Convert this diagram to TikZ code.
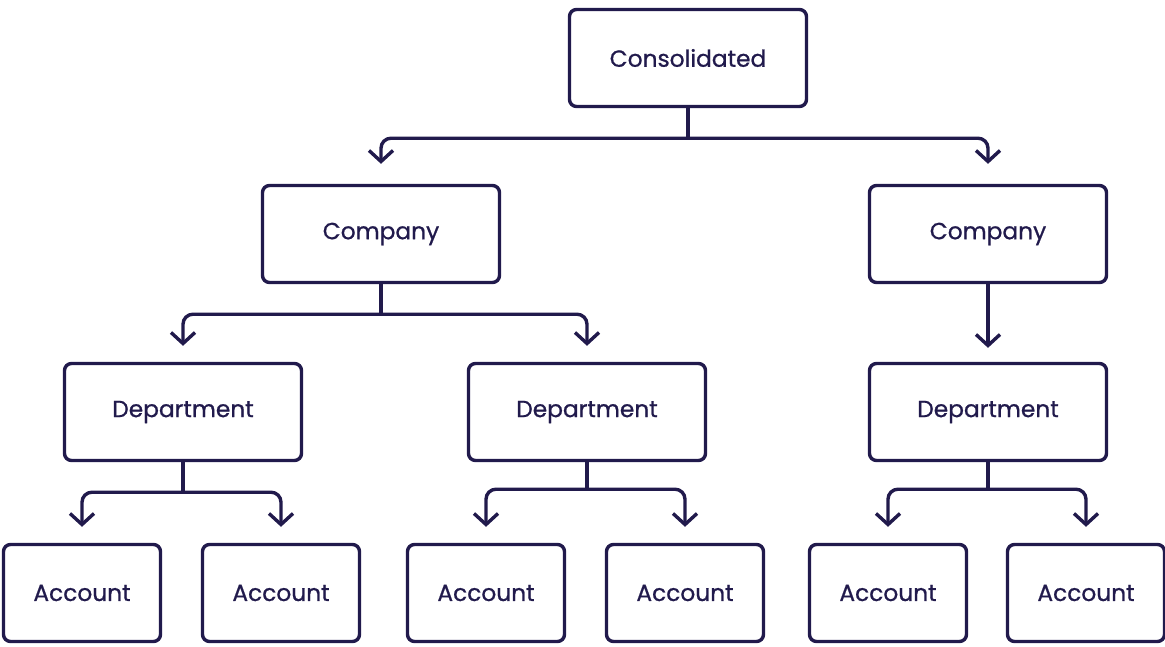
\documentclass[tikz,border=0pt]{standalone}
\usepackage{fontspec}
\setmainfont{Poppins}[FakeBold=0.8]
\usetikzlibrary{arrows.meta}
\definecolor{navy}{HTML}{211A4C}

\begin{document}
\begin{tikzpicture}[x=1pt, y=-1pt,
      >={Straight Barb[length=11pt, width=24pt]},
      box/.style={
        draw=navy,
        line width=3.4pt,
        rounded corners=7pt,
        minimum width=237pt,
        minimum height=97pt,
        text=navy,
        font=\fontsize{23.3}{28}\selectfont
      },
      leaf/.style={
        box,
        minimum width=157pt
      },
      wire/.style={
        navy,
        line width=3.4pt
      },
      link/.style={
        wire,
        ->,
        rounded corners=10pt,
        shorten >=16pt
      },
    ]
    \useasboundingbox (0, 0) rectangle (1165, 646);

    \node [box] (cons) at (688, 58) {Consolidated};

    \node [box] (compA) at (381, 234) {Company};
    \node [box] (compB) at (988, 234) {Company};

    \node [box] (deptA) at (183, 412) {Department};
    \node [box] (deptB) at (587, 412) {Department};
    \node [box] (deptC) at (988, 412) {Department};

    \node [leaf] (accA) at (82, 593) {Account};
    \node [leaf] (accB) at (281, 593) {Account};
    \node [leaf] (accC) at (486, 593) {Account};
    \node [leaf] (accD) at (685, 593) {Account};
    \node [leaf] (accE) at (888, 593) {Account};
    \node [leaf] (accF) at (1086, 593) {Account};

    % top level
    \draw [wire] (cons.south) -- ++(0, 30) coordinate (jCons);
    \draw [link, shorten >=20pt] (jCons) -| (compA.north);
    \draw [link, shorten >=20pt] (jCons) -| (compB.north);

    % companies
    \draw [wire] (compA.south) -- ++(0, 30) coordinate (jCompA);
    \draw [link] (jCompA) -| (deptA.north);
    \draw [link] (jCompA) -| (deptB.north);
    \draw [link, shorten >=14pt] (compB.south) -- (deptC.north);

    % departments
    \draw [wire] (deptA.south) -- ++(0, 30) coordinate (jDeptA);
    \draw [link] (jDeptA) -| (accA.north);
    \draw [link] (jDeptA) -| (accB.north);
    \draw [wire] (deptB.south) -- ++(0, 27) coordinate (jDeptB);
    \draw [link] (jDeptB) -| (accC.north);
    \draw [link] (jDeptB) -| (accD.north);
    \draw [wire] (deptC.south) -- ++(0, 27) coordinate (jDeptC);
    \draw [link] (jDeptC) -| (accE.north);
    \draw [link] (jDeptC) -| (accF.north);
\end{tikzpicture}
\end{document}
